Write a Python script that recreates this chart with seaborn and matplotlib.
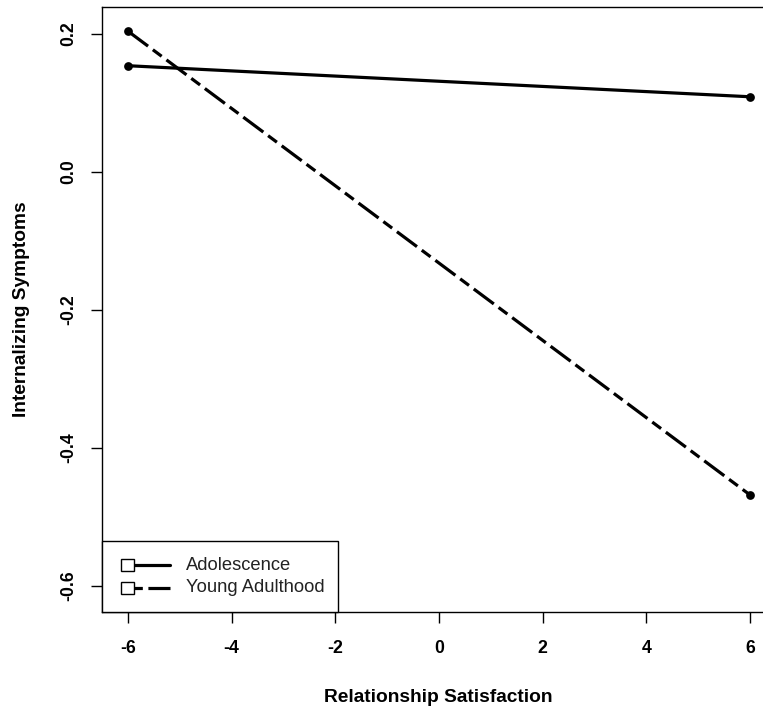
import matplotlib
matplotlib.use("Agg")
import matplotlib.pyplot as plt
from matplotlib.patches import Rectangle
from matplotlib.lines import Line2D
import seaborn as sns
import pandas as pd

# Simple slopes of internalizing symptoms across relationship satisfaction
satisfaction = [-6, 6]
adolescence = [0.154, 0.109]
young_adulthood = [0.204, -0.468]
groups = ["Adolescence", "Young Adulthood"]

x_ticks = [-6, -4, -2, 0, 2, 4, 6]
y_ticks = [-0.6, -0.4, -0.2, 0.0, 0.2]

df = pd.DataFrame({
    "x": satisfaction * 2,
    "y": adolescence + young_adulthood,
    "group": [groups[0]] * 2 + [groups[1]] * 2,
})

sns.set_style("white")
plt.rcParams["font.family"] = ["Liberation Sans", "DejaVu Sans"]
plt.rcParams["lines.scale_dashes"] = False
plt.rcParams["text.color"] = "black"

W, H = 763, 709
fig = plt.figure(figsize=(W / 100, H / 100), dpi=100)
ax_left, ax_right, ax_top, ax_bottom = 102, 776, 7, 612
ax = fig.add_axes([ax_left / W, 1 - ax_bottom / H,
                   (ax_right - ax_left) / W, (ax_bottom - ax_top) / H])

dash_pattern = (18, 4.3, 7.9, 4.3)
sns.lineplot(data=df, x="x", y="y", style="group", hue="group",
             palette=["black", "black"],
             dashes={groups[0]: "", groups[1]: dash_pattern},
             markers={groups[0]: "o", groups[1]: "o"},
             markersize=6.3, markeredgewidth=0, linewidth=2.3,
             legend=False, ax=ax)

ax.set_xlim(-6.502, 6.502)
ax.set_ylim(-0.6377, 0.2391)
ax.set_xticks(x_ticks)
ax.set_xticklabels([f"{v}" for v in x_ticks])
ax.set_yticks(y_ticks)
ax.set_yticklabels([f"{v:.1f}" for v in y_ticks])
ax.set_xlabel("")
ax.set_ylabel("")

for s in ax.spines.values():
    s.set_color("black")
    s.set_linewidth(1.0)
ax.tick_params(axis="both", direction="out", length=7.9, width=1.0,
               color="black", labelcolor="black", labelsize=12.7,
               bottom=True, left=True)
ax.tick_params(axis="x", pad=12)
ax.tick_params(axis="y", pad=10)
for lbl in ax.get_xticklabels():
    lbl.set_fontweight("bold")
for lbl in ax.get_yticklabels():
    lbl.set_fontweight("bold")
    lbl.set_rotation(90)
    lbl.set_va("center")
    lbl.set_ha("right")

fig.text(438 / W, 1 - 702 / H, "Relationship Satisfaction", color="black",
         ha="center", va="baseline", fontsize=13.8, fontweight="bold")
fig.text(22 / W, 1 - 309.5 / H, "Internalizing Symptoms", color="black",
         ha="center", va="center", rotation=90, fontsize=13.8, fontweight="bold")

# Legend box in the lower-left corner of the panel
axw = ax_right - ax_left
axh = ax_bottom - ax_top
def fx(px):
    return (px - ax_left) / axw
def fy(py):
    return (ax_bottom - py) / axh

ax.add_patch(Rectangle((0, 0), fx(338), fy(541), transform=ax.transAxes,
                       fill=True, facecolor="white", edgecolor="black",
                       linewidth=1.0, zorder=5, clip_on=False))
for name, ypix, dash in [(groups[0], 565, None), (groups[1], 588, (6, 4, 18, 4))]:
    ln = Line2D([fx(134), fx(170)], [fy(ypix), fy(ypix)], transform=ax.transAxes,
                color="black", linewidth=2.3, zorder=6)
    if dash is not None:
        ln.set_dashes(dash)
    ax.add_line(ln)
    ax.add_patch(Rectangle((fx(121), fy(ypix + 6)), 13 / axw, 12 / axh,
                           transform=ax.transAxes, facecolor="white",
                           edgecolor="black", linewidth=1.0, zorder=7))
    ax.text(fx(186), fy(ypix), name, transform=ax.transAxes, ha="left",
            va="center", fontsize=13.2, color="#222222", zorder=7)

fig.savefig("out.png", dpi=100)
